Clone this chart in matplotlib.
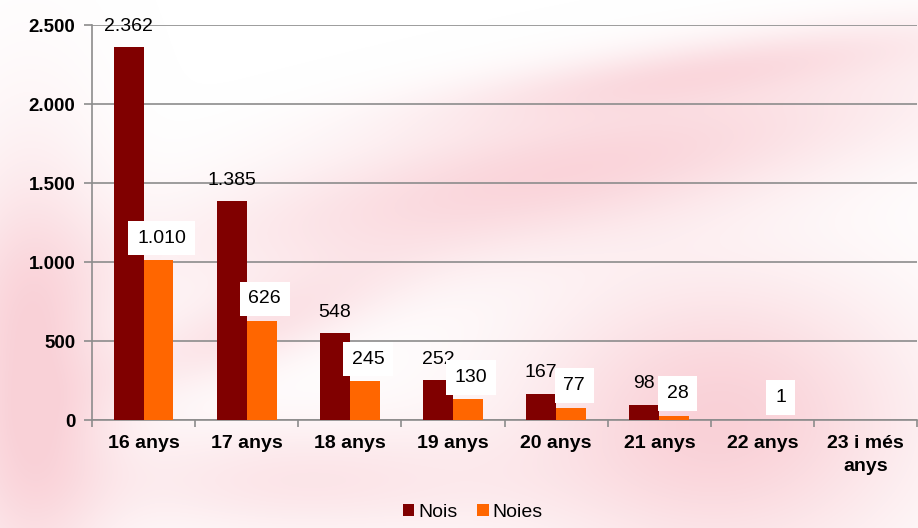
import numpy as np
import matplotlib.pyplot as plt
from matplotlib.ticker import FuncFormatter, FixedLocator

categories = ['16 anys', '17 anys', '18 anys', '19 anys', '20 anys', '21 anys', '22 anys', '23 i més\nanys']
nois = [2362, 1385, 548, 252, 167, 98, np.nan, np.nan]
noies = [1010, 626, 245, 130, 77, 28, 1, np.nan]

c_nois = '#800000'
c_noies = '#ff6600'
grid_c = '#8c8c8c'

plt.rcParams['font.family'] = ['Liberation Sans', 'DejaVu Sans']

fig = plt.figure(figsize=(9.18, 5.28), dpi=100)

# faint blurred pink watermark behind the chart
H, W = 528, 918
yy, xx = np.mgrid[0:H, 0:W]
def blob(cx, cy, sx, sy, ang, a):
    t = np.deg2rad(ang)
    u = (xx - cx) * np.cos(t) + (yy - cy) * np.sin(t)
    v = -(xx - cx) * np.sin(t) + (yy - cy) * np.cos(t)
    return a * np.exp(-(u / sx) ** 2 - (v / sy) ** 2)
alpha = (blob(30, 380, 80, 220, 0, 0.9) + blob(560, 170, 380, 70, -12, 0.8)
         + blob(720, 420, 200, 150, 0, 0.9) + blob(300, 480, 220, 60, 0, 0.5)
         + blob(700, 70, 260, 30, -8, 0.5) + blob(250, 330, 150, 40, -20, 0.5))
alpha = np.clip(alpha, 0, 0.9)
img = np.ones((H, W, 4))
img[..., 0] = 0.98
img[..., 1] = 0.80
img[..., 2] = 0.83
img[..., 3] = alpha
bg = fig.add_axes([0, 0, 1, 1], zorder=-1)
bg.imshow(img, aspect='auto')
bg.axis('off')

ax = fig.add_axes([0.1002, 0.2045, 0.899, 0.748])
ax.set_facecolor('none')

x = np.arange(len(categories))
w = 0.29
b1 = ax.bar(x - w / 2, nois, w, color=c_nois, label='Nois', zorder=3)
b2 = ax.bar(x + w / 2, noies, w, color=c_noies, label='Noies', zorder=3)

def fmt(v):
    return f'{int(v):,}'.replace(',', '.')

for xi, v in zip(x, nois):
    if not np.isnan(v):
        ax.annotate(fmt(v), (xi - w / 2, v), xytext=(0, 15), textcoords='offset points',
                    ha='center', va='center', fontsize=14, zorder=4, annotation_clip=False)
for xi, v in zip(x, noies):
    if not np.isnan(v):
        ax.annotate(fmt(v), (xi + w / 2 + 0.03, v), xytext=(0, 16), textcoords='offset points',
                    ha='center', va='center', fontsize=14, zorder=5, annotation_clip=False,
                    bbox=dict(boxstyle='square,pad=0.45', fc='white', ec='none'))

ax.set_xlim(-0.5, len(categories) - 0.5)
ax.set_ylim(0, 2500)
ax.set_yticks([0, 500, 1000, 1500, 2000, 2500])
ax.yaxis.set_major_formatter(FuncFormatter(lambda v, p: fmt(v)))
ax.grid(axis='y', color=grid_c, lw=1.2, zorder=0)

ax.set_xticks(x)
ax.set_xticklabels(categories, fontweight='bold', fontsize=14, linespacing=1.45)
ax.xaxis.set_minor_locator(FixedLocator(np.arange(len(categories) + 1) - 0.5))
ax.tick_params(axis='x', which='major', length=0, pad=11)
ax.tick_params(axis='x', which='minor', length=5, color=grid_c, width=1.2)
ax.tick_params(axis='y', length=6, color=grid_c, width=1.2, labelsize=13.5, pad=6)
for lab in ax.get_yticklabels():
    lab.set_fontweight('bold')

for s in ['top', 'right']:
    ax.spines[s].set_visible(False)
for s in ['left', 'bottom']:
    ax.spines[s].set_color(grid_c)
    ax.spines[s].set_linewidth(1.2)

fig.legend(handles=[b1, b2], loc='lower center', bbox_to_anchor=(0.515, -0.02), ncol=2,
           frameon=False, fontsize=14, handlelength=0.6, handleheight=0.6,
           handletextpad=0.2, columnspacing=1.0)

fig.savefig('out.png', dpi=100)
